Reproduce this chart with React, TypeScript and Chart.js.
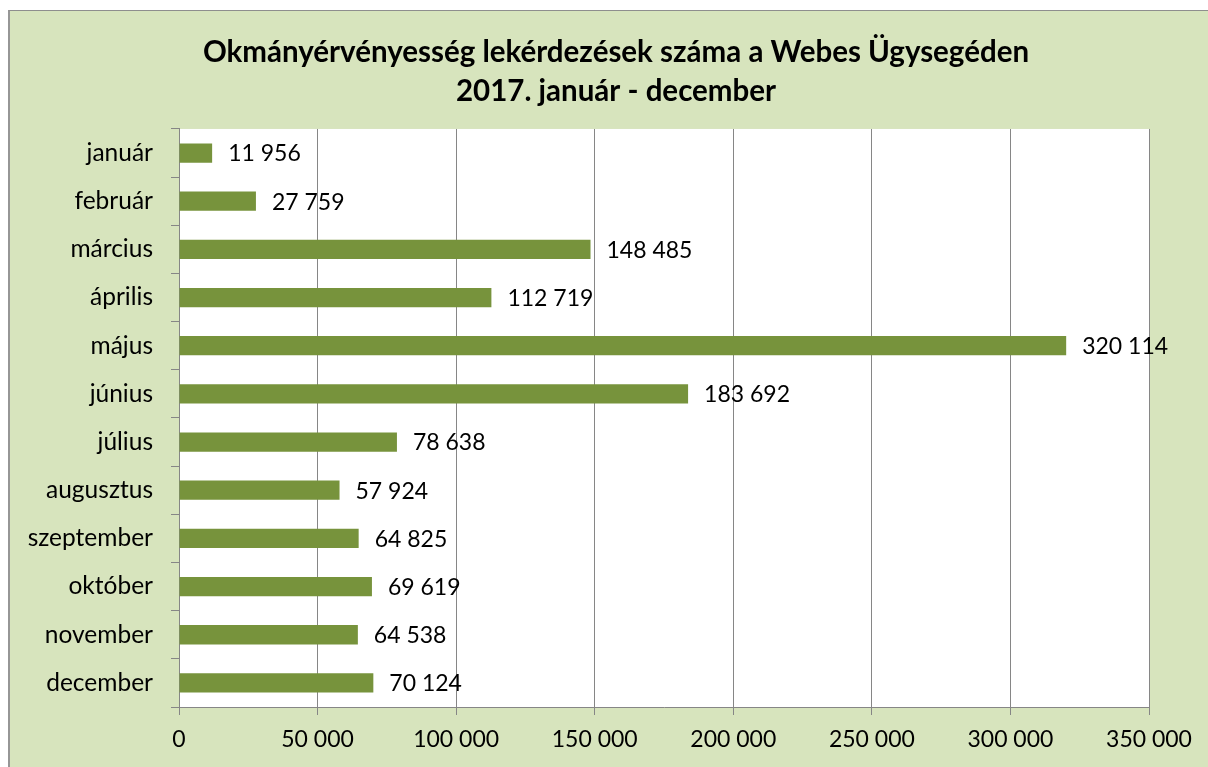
import React, { useEffect, useRef } from 'react';
import { Chart, registerables } from 'chart.js';

Chart.register(...registerables);

const months = ['január', 'február', 'március', 'április', 'május', 'június', 'július', 'augusztus', 'szeptember', 'október', 'november', 'december'];
const values = [11956, 27759, 148485, 112719, 320114, 183692, 78638, 57924, 64825, 69619, 64538, 70124];
const titleLines = ['Okmányérvényesség lekérdezések száma a Webes Ügysegéden', '2017. január - december'];
const xMin = 0;
const xMax = 350000;
const xStep = 50000;

const FONT = 'Lato, Carlito, Calibri, "Open Sans", sans-serif';
const GRID = '#868686';
const BAR = '#77933C';

const fmt = (v: number) => String(Math.round(v)).replace(/\B(?=(\d{3})+(?!\d))/g, ' ');

const plotBg = {
  id: 'plotBg',
  beforeDraw(chart: any) {
    const { ctx, chartArea } = chart;
    ctx.save();
    ctx.fillStyle = '#FFFFFF';
    ctx.fillRect(chartArea.left, chartArea.top, chartArea.right - chartArea.left, chartArea.bottom - chartArea.top);
    ctx.restore();
  },
};

// centre the title over the whole chart box rather than the padded layout width
const titleSpan = {
  id: 'titleSpan',
  afterLayout(chart: any) {
    const t = chart.titleBlock;
    if (t) {
      t.left = 24;
      t.right = chart.width;
      t.width = t.right - t.left;
    }
  },
};

const valueLabels = {
  id: 'valueLabels',
  afterDatasetsDraw(chart: any) {
    const { ctx } = chart;
    const meta = chart.getDatasetMeta(0);
    ctx.save();
    ctx.font = `23px ${FONT}`;
    ctx.fillStyle = '#000000';
    ctx.textAlign = 'left';
    ctx.textBaseline = 'middle';
    meta.data.forEach((bar: any, i: number) => {
      ctx.fillText(fmt(values[i]), bar.x + 16, bar.y + 1);
    });
    ctx.restore();
  },
};

export default function App() {
  const ref = useRef<HTMLCanvasElement>(null);

  useEffect(() => {
    const chart = new Chart(ref.current as HTMLCanvasElement, {
      type: 'bar',
      data: {
        labels: months,
        datasets: [
          {
            data: values,
            backgroundColor: BAR,
            borderWidth: 0,
            barPercentage: 0.4,
            categoryPercentage: 1,
          },
        ],
      },
      options: {
        indexAxis: 'y',
        responsive: false,
        animation: false,
        layout: { padding: { left: 0, right: 59, top: 0, bottom: 0 } },
        plugins: {
          legend: { display: false },
          tooltip: { enabled: false },
          title: {
            display: true,
            text: titleLines,
            color: '#000000',
            font: { family: FONT, size: 29.5, weight: 'bold', lineHeight: 1.33 },
            padding: { top: 33, bottom: 17.5 },
          },
        },
        scales: {
          x: {
            min: xMin,
            max: xMax,
            afterFit(scale: any) {
              scale.height = 60;
            },
            ticks: {
              stepSize: xStep,
              color: '#000000',
              font: { family: FONT, size: 23 },
              padding: 11,
              maxRotation: 0,
              callback: (v: any) => fmt(Number(v)),
            },
            grid: { color: GRID, lineWidth: 1, tickLength: 8, drawTicks: true },
            border: { color: GRID, width: 1 },
          },
          y: {
            afterFit(scale: any) {
              scale.width = 179;
            },
            ticks: {
              color: '#000000',
              font: { family: FONT, size: 24.5 },
              padding: 18,
            },
            grid: { color: GRID, drawOnChartArea: false, drawTicks: true, tickLength: 8, offset: true },
            border: { color: GRID, width: 1 },
          },
        },
      },
      plugins: [plotBg, titleSpan, valueLabels],
    } as any);
    return () => chart.destroy();
  }, []);

  return (
    <>
      <div
        style={{
          position: 'fixed',
          left: 8,
          top: 10,
          width: 1210,
          height: 770,
          background: '#D7E4BD',
          borderTop: '1px solid #8E8E8E',
          borderLeft: '2px solid #969696',
        }}
      />
      <div style={{ position: 'fixed', left: 0, top: 0, width: 1208, height: 767 }}>
        <canvas ref={ref} width={1208} height={767} style={{ display: 'block' }} />
      </div>
    </>
  );
}
